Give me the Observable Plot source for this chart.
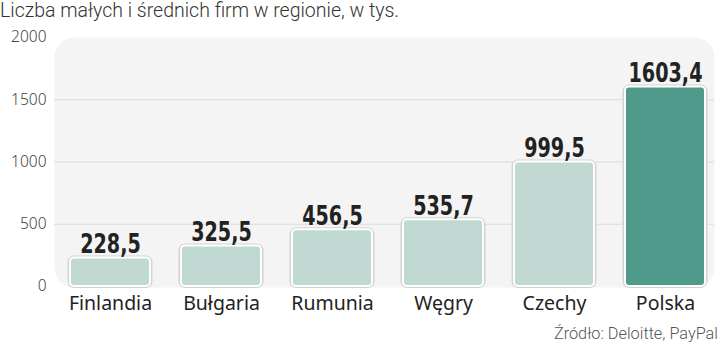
<!DOCTYPE html>
<html>
<head>
<meta charset="utf-8">
<script src="https://cdn.jsdelivr.net/npm/d3@7"></script>
<script src="https://cdn.jsdelivr.net/npm/@observablehq/plot@0.6"></script>
<style>
  html, body { margin: 0; padding: 0; background: #fff; }
  body { width: 720px; height: 342px; overflow: hidden; font-family: Roboto, "Noto Sans", sans-serif; }
  #title { font-size: 19.5px; font-weight: 300; color: #333; height: 24px; line-height: 22px; white-space: nowrap; }
  #caption { font-size: 16.3px; font-weight: 300; color: #555; text-align: right; padding-right: 2px; line-height: 20px; }
</style>
</head>
<body>
<div id="title">Liczba małych i średnich firm w regionie, w tys.</div>
<div id="chart"></div>
<div id="caption">Źródło: Deloitte, PayPal</div>
<script>
const countries = ["Finlandia", "Bułgaria", "Rumunia", "Węgry", "Czechy", "Polska"];
const values = [228.5, 325.5, 456.5, 535.7, 999.5, 1603.4];
const labels = ["228,5", "325,5", "456,5", "535,7", "999,5", "1603,4"];
const yTicks = [0, 500, 1000, 1500, 2000];
const gridTicks = [500, 1000, 1500];
const highlight = "Polska";

const data = countries.map((c, i) => ({country: c, value: values[i], label: labels[i]}));

const chart = Plot.plot({
  width: 720,
  height: 300,
  marginLeft: 54,
  marginRight: 0,
  marginTop: 13,
  marginBottom: 38,
  style: {background: "transparent", overflow: "visible"},
  x: {domain: countries, paddingInner: 0.28, paddingOuter: 0.14, label: null},
  y: {domain: [0, 2000], label: null},
  marks: [
    Plot.frame({fill: "#f4f4f4", stroke: null, rx: 20, insetRight: 6, insetBottom: -1}),
    Plot.ruleY(gridTicks, {stroke: "#dcdcdc", strokeWidth: 1, insetRight: 6}),
    Plot.barY(data, {x: "country", y: "value", fill: "none", stroke: "#d2d2d2", strokeWidth: 4, rx: 5, insetLeft: -0.5, insetRight: -0.5}),
    Plot.barY(data, {x: "country", y: "value", fill: d => d.country === highlight ? "#4f9a8b" : "#c0d9d2", stroke: "#ffffff", strokeWidth: 2, rx: 4}),
    Plot.text(data, {x: "country", y: "value", text: "label", lineAnchor: "bottom", dy: -5, fontSize: 26, fontWeight: "bold", fill: "#222", fontFamily: "'DejaVu Sans Condensed', 'DejaVu Sans', sans-serif", className: "val"}),
    Plot.axisY(yTicks, {tickSize: 0, tickPadding: 8, fontSize: 15.5, fill: "#444", fontWeight: 300, tickFormat: d => String(d)}),
    Plot.axisX({tickSize: 0, tickPadding: 10, fontSize: 19.5, fill: "#222"})
  ]
});
chart.querySelectorAll("g.val text").forEach(t => {
  const tr = t.getAttribute("transform") || "";
  t.setAttribute("transform", tr + " scale(0.82,1)");
});
document.getElementById("chart").appendChild(chart);
</script>
</body>
</html>
